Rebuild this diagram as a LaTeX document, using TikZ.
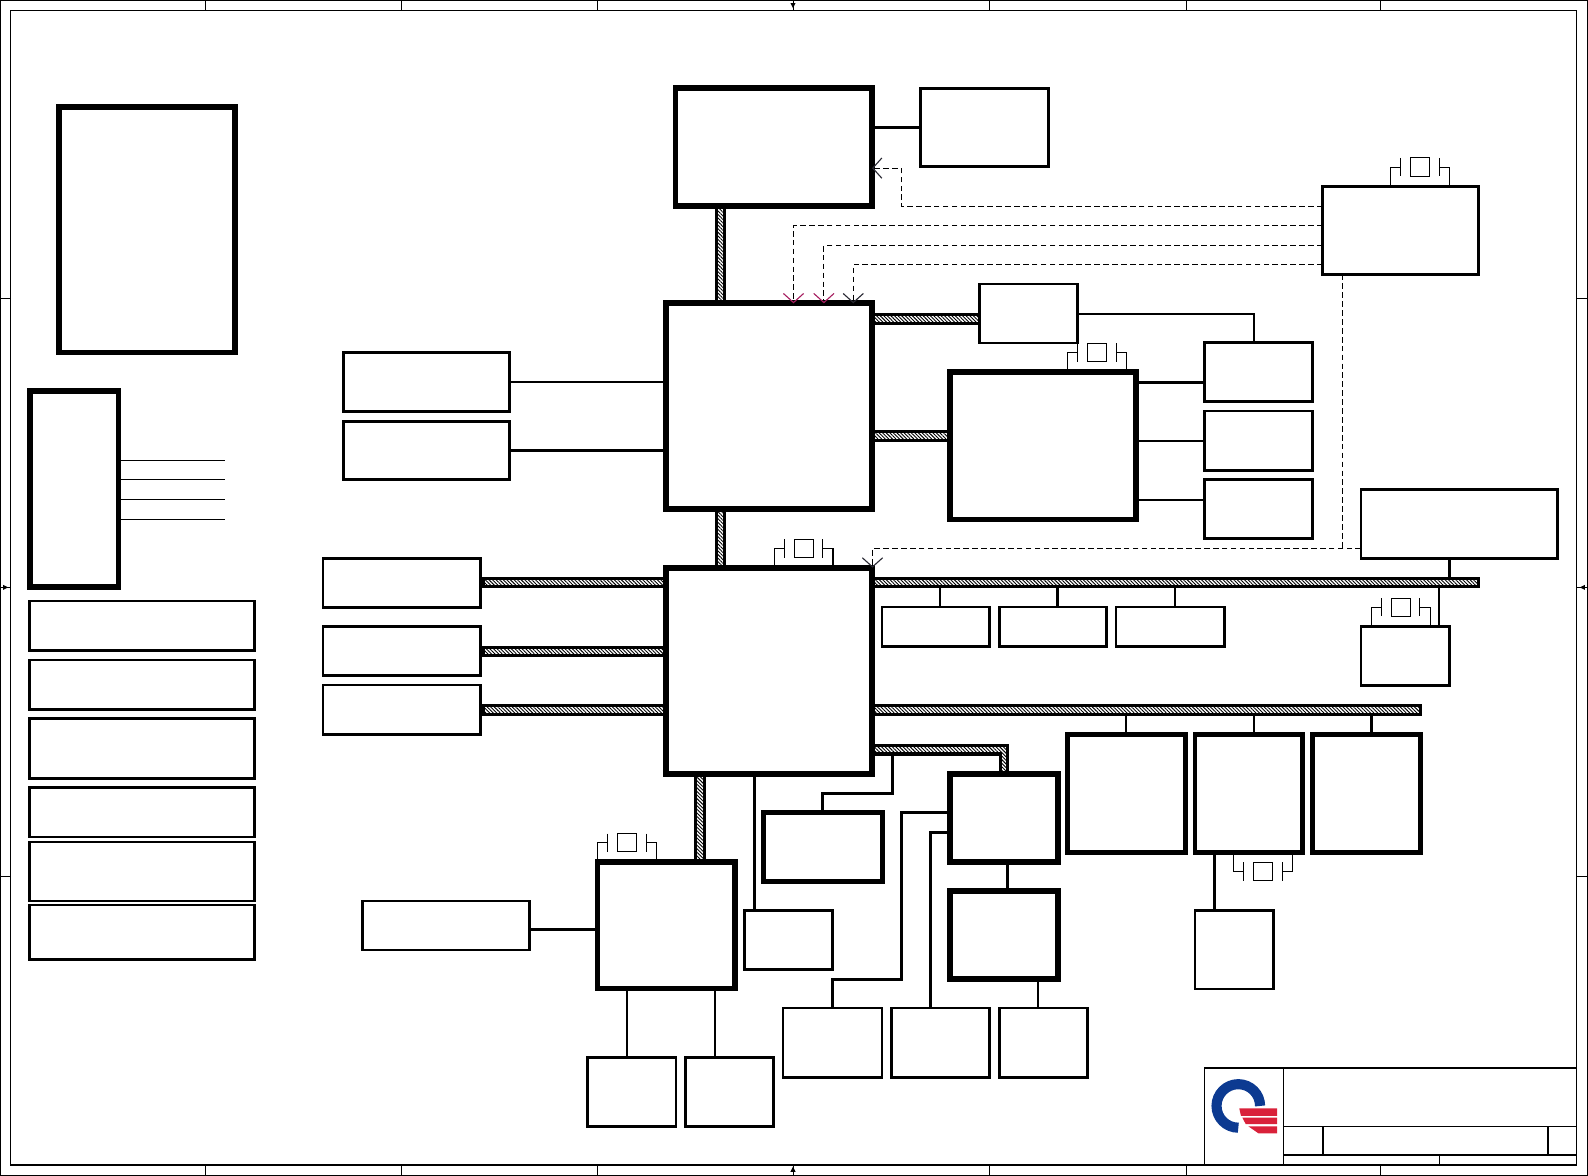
\documentclass[tikz,border=0pt]{standalone}
\usetikzlibrary{arrows.meta,patterns.meta}

\def\uu{0.5pt}
% block given by its two corners
\newcommand{\blk}[6]{\node[#1,minimum width={(#5-#3)*\uu},minimum height={(#6-#4)*\uu}] (#2) at ({(#3+#5)/2},{(#4+#6)/2}) {};}

\definecolor{logoblue}{RGB}{12,58,145}
\definecolor{logored}{RGB}{217,33,58}
\definecolor{tipred}{RGB}{165,30,95}
\definecolor{tipdark}{RGB}{40,40,50}

\begin{document}
\begin{tikzpicture}[
  x=\uu, y=-\uu,
  hvy/.style={draw,inner sep=0pt,outer sep=0pt,line width=2.9pt},
  mid/.style={draw,inner sep=0pt,outer sep=0pt,line width=2.4pt},
  lite/.style={draw,inner sep=0pt,outer sep=0pt,line width=1.25pt},
  wire/.style={line width=1.25pt},
  rule/.style={line width=0.8pt},
  hair/.style={line width=0.5pt},
  bus/.style={line width=1.5pt,pattern={Lines[angle=135,distance=1.25pt,line width=0.45pt]}},
  sig/.style={line width=0.5pt,dash pattern=on 2.8pt off 1.6pt},
  barb/.style={-{Straight Barb[length=4.5pt,width=10pt,line width=0.55pt,color=#1]}},
  barb/.default=tipdark,
  xtal/.pic={
    \draw[hair] (-29,0) -- (-29,-19) -- (-19,-19) (-19,-28) -- (-19,-10);
    \draw[hair] (-9.5,-28) rectangle (9.5,-10);
    \draw[hair] (29,0) -- (29,-19) -- (19,-19) (19,-28) -- (19,-10);
  }
]
\useasboundingbox (0,0) rectangle (1568,1161);

% ---- Sheet frame ----
\draw[line width=0.6pt] (0.5,0.5) rectangle (1567.5,1160.5);
\draw[line width=0.7pt] (10.3,10.3) rectangle (1556.7,1150.3);
\foreach \tx in {203.2,396.4,590.2,783.2,977.2,1171.4,1363.2} {
  \draw[hair] (\tx,0) -- (\tx,10);
  \draw[hair] (\tx,1150) -- (\tx,1161);
}
\foreach \ty in {295.2,580.2,865.2} {
  \draw[hair] (0,\ty) -- (10,\ty);
  \draw[hair] (1557,\ty) -- (1568,\ty);
}
\fill (780.5,3) -- (785.5,3) -- (783,8) -- cycle;
\fill (780.5,1157) -- (785.5,1157) -- (783,1152) -- cycle;
\fill (3,577.5) -- (3,582.5) -- (8,580) -- cycle;
\fill (1565,577.5) -- (1565,582.5) -- (1560,580) -- cycle;

% ---- Left column ----
\blk{hvy}{notes}{58}{106}{232}{348}
\blk{hvy}{conn}{30}{386}{117}{580}
\blk{lite}{listA}{29}{593.5}{251.5}{642.5}
\blk{lite}{listB}{29}{651.5}{251.5}{700.5}
\blk{lite}{listC}{29}{709.5}{251.5}{768.5}
\blk{lite}{listD}{29}{777.5}{251.5}{826.5}
\blk{lite}{listE}{29}{831.5}{251.5}{889.5}
\blk{lite}{listF}{29}{893.5}{251.5}{947.5}
\coordinate (connEnd) at (222.5,0);
\foreach \ty in {454.4,473.6,493.2,513.2}
  \draw[hair] (conn.east |- 0,\ty) -- (connEnd |- 0,\ty);

% ---- Main chain ----
\blk{hvy}{cpu}{667}{87}{861}{203}
\blk{hvy}{nbridge}{658}{299.5}{861}{503}
\blk{hvy}{sbridge}{658}{560.5}{861}{764}
\blk{lite}{clkbuf}{909}{87.5}{1035.5}{164.5}
\blk{lite}{clkgen}{1306}{184}{1460}{271}
\blk{lite}{memA}{339}{348}{503}{406.5}
\blk{lite}{memB}{339}{416}{503}{473.5}
\blk{lite}{lvds}{967}{280.5}{1064}{338.5}
\blk{hvy}{gfx}{938}{367}{1122}{513}
\blk{lite}{outA}{1189.5}{338}{1296}{396.5}
\blk{lite}{outB}{1189.5}{406}{1296}{464.5}
\blk{lite}{outC}{1189.5}{473.5}{1296}{531.5}
\blk{lite}{ec}{1344}{483.5}{1538}{551.5}
\blk{lite}{hubA}{319}{551.5}{474.5}{600}
\blk{lite}{hubB}{319}{618.5}{474.5}{667}
\blk{lite}{hubC}{319}{676.5}{474.5}{725}
\blk{lite}{slotA}{871}{599.5}{977}{638.5}
\blk{lite}{slotB}{987}{599.5}{1092.5}{638.5}
\blk{lite}{slotC}{1102}{599.5}{1209}{638.5}
\blk{lite}{rtc}{1344}{618.5}{1431}{677}
\blk{mid}{cardA}{1054}{725}{1170.5}{841.5}
\blk{mid}{cardB}{1180}{725}{1286.5}{841.5}
\blk{mid}{cardC}{1296}{725}{1403}{841.5}
\blk{mid}{audio}{754}{802}{871}{870}
\blk{hvy}{lan}{938}{764}{1045}{851}
\blk{hvy}{phy}{938}{880}{1045}{967}
\blk{hvy}{sio}{590}{851}{726}{976}
\blk{lite}{rom}{358}{889.5}{523}{938}
\blk{lite}{kbd}{735}{899}{822}{957.5}
\blk{lite}{wlan}{1180}{899}{1257.5}{976.5}
\blk{lite}{jackA}{773}{995.5}{871}{1064}
\blk{lite}{jackB}{880}{995.5}{977}{1064}
\blk{lite}{jackC}{987}{995.5}{1074}{1064}
\blk{lite}{fanA}{580}{1044}{667.5}{1112.5}
\blk{lite}{fanB}{677}{1044}{764}{1112.5}

% ---- Hatched buses ----
\draw[bus] (707,0 |- cpu.south) rectangle (715.5,0 |- nbridge.north);
\draw[bus] (707,0 |- nbridge.south) rectangle (715.5,0 |- sbridge.north);
\draw[bus] (nbridge.east |- 0,310.5) rectangle (lvds.west |- 0,319);
\draw[bus] (nbridge.east |- 0,426) rectangle (gfx.west |- 0,434.5);
\draw[bus] ([xshift=1.5pt]hubA.east |- 0,571) rectangle (sbridge.west |- 0,579.5);
\draw[bus] ([xshift=1.5pt]hubB.east |- 0,639) rectangle (sbridge.west |- 0,647.5);
\draw[bus] ([xshift=1.5pt]hubC.east |- 0,697) rectangle (sbridge.west |- 0,705.5);
\draw[bus] (sbridge.east |- 0,571) rectangle (1460,579.5);
\draw[bus] (sbridge.east |- 0,697) rectangle (cardC.east |- 0,705.5);
\draw[bus] (sbridge.east |- 0,736) -- (995,736) -- (995,0 |- lan.north)
  -- (987.5,0 |- lan.north) -- (987.5,744.5) -- (sbridge.east |- 0,744.5) -- cycle;
\draw[bus] (687,0 |- sbridge.south) rectangle (695.5,0 |- sio.north);

% ---- Plain links ----
\draw[wire] (cpu.east |- clkbuf) -- (clkbuf.west);
\draw[wire] (memA.east) -- (nbridge.west |- memA);
\draw[wire] (memB.east) -- (nbridge.west |- memB);
\draw[wire] (lvds.east |- 0,310) -| (1238,0 |- outA.north);
\draw[wire] (gfx.east |- 0,377.5) -- (outA.west |- 0,377.5);
\draw[wire] (gfx.east |- outB) -- (outB.west);
\draw[wire] (gfx.east |- 0,493.5) -- (outC.west |- 0,493.5);
\draw[wire] (1431,0 |- ec.south) -- (1431,571);
\draw[wire] (928,579) -- (928,0 |- slotA.north);
\draw[wire] (1044,579) -- (1044,0 |- slotB.north);
\draw[wire] (1160,579) -- (1160,0 |- slotC.north);
\draw[wire] (1421,579) -- (1421,0 |- rtc.north);
\draw[wire] (1112,705) -- (1112,0 |- cardA.north);
\draw[wire] (1238,705) -- (1238,0 |- cardB.north);
\draw[wire] (1354,705) -- (1354,0 |- cardC.north);
\draw[wire] (881,744) |- (812,783.5) -- (812,0 |- audio.north);
\draw[wire] (745,0 |- sbridge.south) -- (745,0 |- kbd.north);
\draw[wire] (lan.west |- 0,802) -| (890,967) -| (jackA.north);
\draw[wire] (lan.west |- 0,822) -| (919,0 |- jackB.north);
\draw[wire] (995,0 |- lan.south) -- (995,0 |- phy.north);
\draw[wire] (1025,0 |- phy.south) -- (1025,0 |- jackC.north);
\draw[wire] (1199,0 |- cardB.south) -- (1199,0 |- wlan.north);
\draw[wire] (rom.east |- 0,918) -- (sio.west |- 0,918);
\draw[wire] (619,0 |- sio.south) -- (619,0 |- fanA.north);
\draw[wire] (706,0 |- sio.south) -- (706,0 |- fanB.north);

% ---- Clock lines ----
\draw[sig,barb] (clkgen.west |- 0,204) -| (890,166) -- (cpu.east |- 0,166);
\draw[sig,barb=tipred] (clkgen.west |- 0,222.5) -| (783.5,0 |- nbridge.north);
\draw[sig,barb=tipred] (clkgen.west |- 0,242.5) -| (813.5,0 |- nbridge.north);
\draw[sig,barb] (clkgen.west |- 0,261.5) -| (842.5,0 |- nbridge.north);
\draw[sig] (1326,0 |- clkgen.south) -- (1326,541.5);
\draw[sig,barb] (ec.west |- 0,541.5) -| (861.5,0 |- sbridge.north);

% ---- Crystals ----
\pic at (1402,0 |- clkgen.north) {xtal};
\pic at (1083,0 |- gfx.north) {xtal};
\pic at (793.5,0 |- sbridge.north) {xtal};
\pic at (1383,0 |- rtc.north) {xtal};
\pic at (619,0 |- sio.north) {xtal};
\pic[yscale=-1] at (1247,0 |- cardB.south) {xtal};

% ---- Title block ----
\draw[rule] (1557,1054.4) -- (1189.4,1054.4) -- (1189.4,1150);
\draw[rule] (1267.4,1054) -- (1267.4,1150);
\draw[rule] (1267,1112.4) -- (1557,1112.4);
\draw[rule] (1267,1140.4) -- (1557,1140.4);
\draw[rule] (1306.4,1112) -- (1306.4,1140);
\draw[rule] (1528.4,1112) -- (1528.4,1140);
\draw[rule] (1421.4,1140) -- (1421.4,1150);

% Logo
\draw[logoblue,line width=5pt] (1244.2,1092) arc[start angle=0,end angle=-270,radius=21.5];
\fill[logored] (1223.7,1094.5) -- (1261,1094.5) -- (1261,1101.7) -- (1225.3,1101.7) -- cycle;
\fill[logored] (1226.7,1103.6) -- (1261,1103.6) -- (1261,1109.9) -- (1230,1109.9) -- cycle;
\fill[logored] (1232.6,1112.1) -- (1261,1112.1) -- (1261,1119) -- (1242.5,1119) -- cycle;
\end{tikzpicture}
\end{document}
